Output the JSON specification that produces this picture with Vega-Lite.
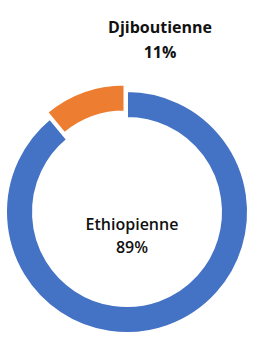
{
  "$schema": "https://vega.github.io/schema/vega-lite/v6.json",
  "width": 242,
  "height": 242,
  "autosize": {"type": "none"},
  "padding": {"left": 6, "top": 91, "right": 7, "bottom": 8},
  "background": "white",
  "view": {"stroke": null},
  "data": {"values": [
    {"nat": "Ethiopienne", "pct": 89, "rank": 1},
    {"nat": "Djiboutienne", "pct": 11, "rank": 2}
  ]},
  "transform": [
    {"stack": "pct", "groupby": [], "sort": [{"field": "rank", "order": "ascending"}], "as": ["s0", "s1"]},
    {"calculate": "datum.nat + '\\n' + datum.pct + '%'", "as": "label"}
  ],
  "layer": [
    {
      "transform": [{"filter": "datum.nat === 'Ethiopienne'"}],
      "mark": {"type": "arc", "outerRadius": 121, "innerRadius": 94, "stroke": "white", "strokeWidth": 2},
      "encoding": {
        "theta": {"field": "s0", "type": "quantitative", "scale": {"domain": [0, 100]}},
        "theta2": {"field": "s1"},
        "color": {"field": "nat", "type": "nominal", "scale": {"domain": ["Ethiopienne", "Djiboutienne"], "range": ["#4472C4", "#ED7D31"]}, "legend": null}
      }
    },
    {
      "transform": [{"filter": "datum.nat === 'Djiboutienne'"}],
      "mark": {"type": "arc", "outerRadius": 121, "innerRadius": 94, "stroke": "white", "strokeWidth": 2, "xOffset": -2.5, "yOffset": -6.5},
      "encoding": {
        "theta": {"field": "s0", "type": "quantitative", "scale": {"domain": [0, 100]}},
        "theta2": {"field": "s1"},
        "color": {"field": "nat", "type": "nominal", "scale": {"domain": ["Ethiopienne", "Djiboutienne"], "range": ["#4472C4", "#ED7D31"]}, "legend": null}
      }
    },
    {
      "transform": [{"filter": "datum.nat === 'Ethiopienne'"}],
      "mark": {"type": "text", "font": "Open Sans", "fontSize": 16, "fontWeight": 600, "color": "#111111", "lineBreak": "\n", "lineHeight": 23, "align": "center", "baseline": "middle", "dx": 5, "dy": 13},
      "encoding": {"text": {"field": "label"}}
    },
    {
      "transform": [{"filter": "datum.nat === 'Djiboutienne'"}],
      "mark": {"type": "text", "font": "Open Sans", "fontSize": 16, "fontWeight": "bold", "color": "#111111", "lineBreak": "\n", "lineHeight": 25, "align": "center", "baseline": "middle", "dx": 33, "dy": -184},
      "encoding": {"text": {"field": "label"}}
    }
  ]
}
